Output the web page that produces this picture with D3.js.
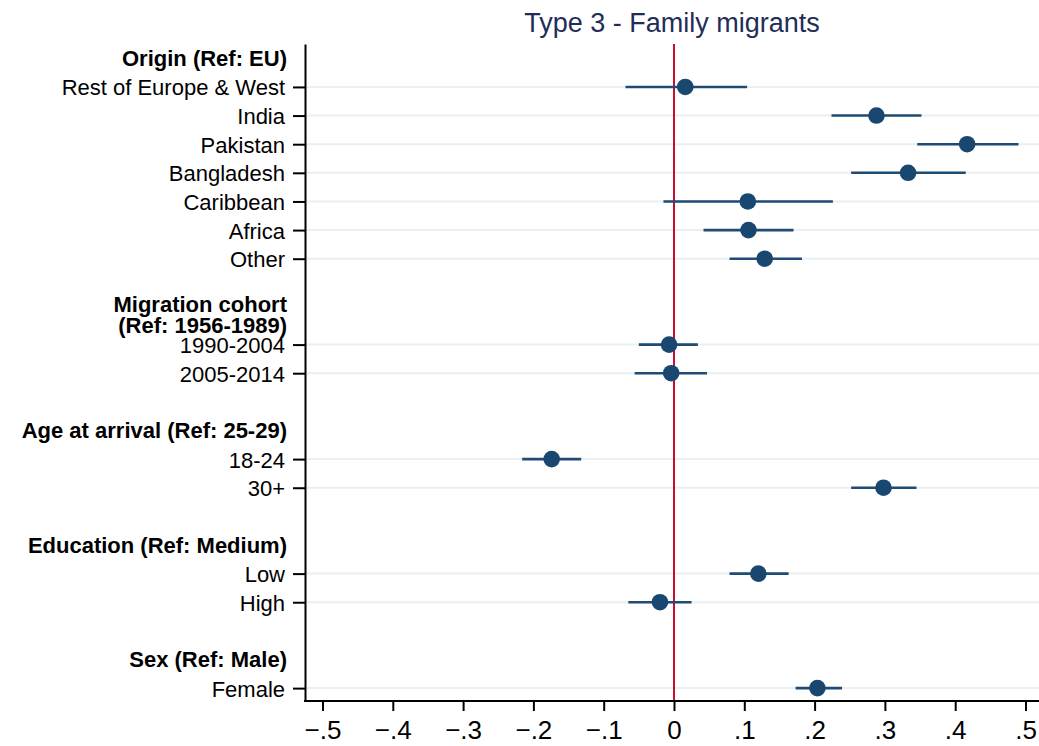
<!DOCTYPE html>
<html>
<head>
<meta charset="utf-8">
<script src="https://cdn.jsdelivr.net/npm/d3@7"></script>
<style>
    html, body { margin: 0; padding: 0; background: #fff; }
    svg { display: block; font-family: "Liberation Sans", Arial, sans-serif; }
</style>
</head>
<body>
<svg id="chart" width="1039" height="746"></svg>
<script>
'use strict';

// group headings (| marks a line break) and the coefficients under each
var groupTitles = [
    'Origin (Ref: EU)',
    'Migration cohort|(Ref: 1956-1989)',
    'Age at arrival (Ref: 25-29)',
    'Education (Ref: Medium)',
    'Sex (Ref: Male)'
];

var groupItems = [
    ['Rest of Europe & West', 'India', 'Pakistan', 'Bangladesh', 'Caribbean', 'Africa', 'Other'],
    ['1990-2004', '2005-2014'],
    ['18-24', '30+'],
    ['Low', 'High'],
    ['Female']
];

// point estimates and 95% CI, same order as groupItems flattened
var estimates = [0.016, 0.288, 0.417, 0.333, 0.105, 0.106, 0.129,
                 -0.007, -0.004,
                 -0.174, 0.298,
                 0.120, -0.020,
                 0.204];
var lower     = [-0.069, 0.224, 0.346, 0.252, -0.015, 0.042, 0.079,
                 -0.050, -0.056,
                 -0.216, 0.252,
                 0.079, -0.065,
                 0.173];
var upper     = [0.104, 0.352, 0.490, 0.415, 0.226, 0.170, 0.182,
                 0.034, 0.047,
                 -0.132, 0.345,
                 0.163, 0.025,
                 0.239];

var xTicks = [-0.5, -0.4, -0.3, -0.2, -0.1, 0, 0.1, 0.2, 0.3, 0.4, 0.5];
var chartTitle = 'Type 3 - Family migrants';

// build the row list: heading, items, blank spacer between groups
var rows = [],
    k = 0;
groupTitles.forEach(function( title, g ){
    if ( g > 0 ){
        rows.push({ type: 'blank' });
    }
    rows.push({ type: 'header', label: title });
    groupItems[g].forEach(function( name ){
        rows.push({ type: 'coef', label: name, est: estimates[k], lo: lower[k], hi: upper[k] });
        k++;
    });
});
rows.forEach(function( r, i ){ r.slot = i; });
var coefs = rows.filter(function( r ){ return r.type === 'coef'; });

var svg = d3.select('#chart'),
    axisX = 305,
    plotTop = 44,
    plotBottom = 701,
    plotRight = 1039,
    navy = '#1a476f';

var x = d3.scaleLinear().domain([-0.5, 0.5]).range([322.5, 1025.5]);
var y = d3.scaleLinear().domain([-0.5, rows.length - 1 + 0.45]).range([plotTop, plotBottom]);

// title
svg.append('text')
    .attr('x', 672)
    .attr('y', 32)
    .attr('text-anchor', 'middle')
    .attr('font-size', 27)
    .attr('fill', '#1f2d58')
    .text(chartTitle);

// grid lines at each coefficient
svg.append('g')
    .selectAll('line')
    .data(coefs)
    .join('line')
    .attr('x1', axisX)
    .attr('x2', plotRight)
    .attr('y1', function( d ){ return y(d.slot); })
    .attr('y2', function( d ){ return y(d.slot); })
    .attr('stroke', '#eaf0f2')
    .attr('stroke-width', 2);

// zero reference line
svg.append('line')
    .attr('x1', x(0))
    .attr('x2', x(0))
    .attr('y1', plotTop)
    .attr('y2', plotBottom)
    .attr('stroke', '#c8102e')
    .attr('stroke-width', 2);

// left axis: ticks only at coefficient rows
var yAxis = d3.axisLeft(y)
    .tickValues(coefs.map(function( d ){ return d.slot; }))
    .tickFormat(function( v ){ return rows[v].label; })
    .tickSize(12)
    .tickSizeOuter(0)
    .tickPadding(8);

var gy = svg.append('g')
    .attr('transform', 'translate(' + axisX + ',0)')
    .call(yAxis);
gy.select('.domain').attr('stroke', '#000').attr('stroke-width', 2);
gy.selectAll('.tick line').attr('stroke', '#000').attr('stroke-width', 2);
gy.selectAll('.tick text')
    .attr('font-size', 22)
    .attr('font-family', '"Liberation Sans", Arial, sans-serif')
    .attr('fill', '#000')
    .attr('dy', 8);

// bold group headings
var heads = svg.append('g')
    .selectAll('text')
    .data(rows.filter(function( r ){ return r.type === 'header'; }))
    .join('text')
    .attr('x', 287)
    .attr('text-anchor', 'end')
    .attr('font-size', 22)
    .attr('font-weight', 'bold')
    .attr('fill', '#000');

heads.each(function( d ){
    var parts = d.label.split('|'),
        base = parts.length > 1 ? y(d.slot) - 4 : y(d.slot) + 8,
        t = d3.select(this);
    parts.forEach(function( p, i ){
        t.append('tspan')
            .attr('x', 287)
            .attr('y', base + i * 21.5)
            .text(p);
    });
});

// bottom axis
svg.append('line')
    .attr('x1', axisX - 1)
    .attr('x2', plotRight)
    .attr('y1', plotBottom)
    .attr('y2', plotBottom)
    .attr('stroke', '#000')
    .attr('stroke-width', 2);

var xAxis = d3.axisBottom(x)
    .tickValues(xTicks)
    .tickFormat(function( v ){
        var s = d3.format('.1f')(v);
        if ( s === '0.0' || s === '-0.0' ){ return '0'; }
        return s.replace('0.', '.');
    })
    .tickSize(10)
    .tickSizeOuter(0)
    .tickPadding(10);

var gx = svg.append('g')
    .attr('transform', 'translate(0,' + plotBottom + ')')
    .call(xAxis);
gx.select('.domain').remove();
gx.selectAll('.tick line').attr('stroke', '#000').attr('stroke-width', 2);
gx.selectAll('.tick text')
    .attr('font-size', 26)
    .attr('font-family', '"Liberation Sans", Arial, sans-serif')
    .attr('fill', '#000');

// confidence intervals
svg.append('g')
    .selectAll('line')
    .data(coefs)
    .join('line')
    .attr('x1', function( d ){ return x(d.lo); })
    .attr('x2', function( d ){ return x(d.hi); })
    .attr('y1', function( d ){ return y(d.slot); })
    .attr('y2', function( d ){ return y(d.slot); })
    .attr('stroke', '#1f4b74')
    .attr('stroke-width', 2.6);

// point estimates
svg.append('g')
    .selectAll('circle')
    .data(coefs)
    .join('circle')
    .attr('cx', function( d ){ return x(d.est); })
    .attr('cy', function( d ){ return y(d.slot); })
    .attr('r', 8.3)
    .attr('fill', navy);
</script>
</body>
</html>
